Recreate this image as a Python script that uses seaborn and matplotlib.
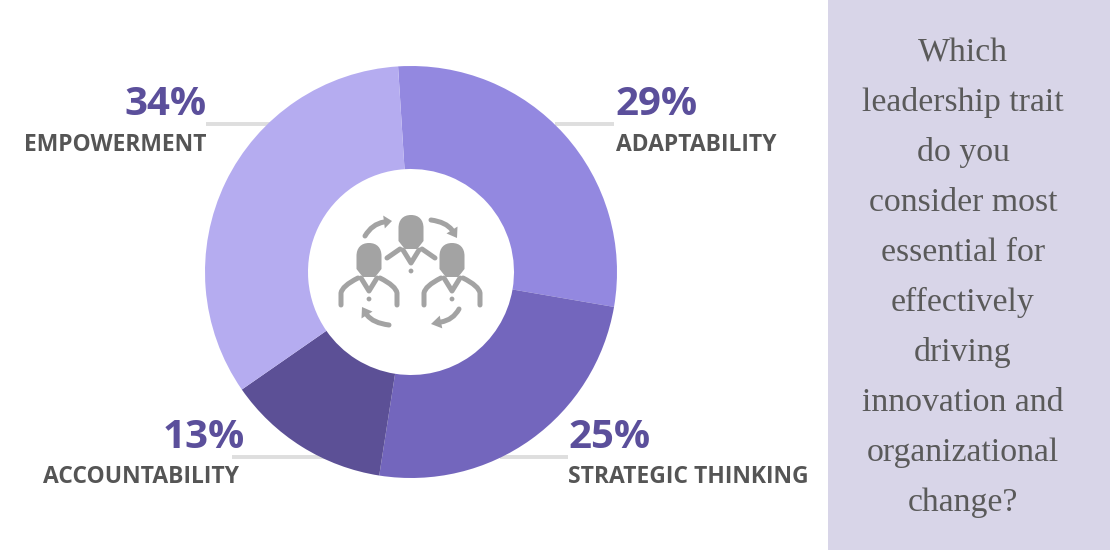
import matplotlib
matplotlib.use('Agg')
import matplotlib.pyplot as plt
import seaborn as sns
from matplotlib.patches import Rectangle, Circle, PathPatch, Polygon
from matplotlib.path import Path
import numpy as np

sns.set_theme(style="white")
plt.rcParams['font.family'] = ['Open Sans', 'DejaVu Sans']

# data, clockwise from the top of the ring
traits = ['ADAPTABILITY', 'STRATEGIC THINKING', 'ACCOUNTABILITY', 'EMPOWERMENT']
shares = [29, 25, 13, 34]
question = ['Which', 'leadership trait', 'do you', 'consider most', 'essential for',
            'effectively', 'driving', 'innovation and', 'organizational', 'change?']

ring_colors = sns.color_palette(['#9388E0', '#7366BD', '#5C5096', '#B5ACF0'])
PCT = '#5B4F9B'
LABEL = '#555555'
LEADER = '#DEDEDE'
ICON = '#A3A3A3'
H = 550

fig = plt.figure(figsize=(11.1, 5.5), dpi=100)
ax = fig.add_axes([0, 0, 1, 1])

# ── RING ─────────────────────────────────────────────────
cx, cy, r = 411, H - 272, 206
ax.pie(shares, colors=ring_colors, startangle=93.6, counterclock=False,
       center=(cx, cy), radius=r, frame=True,
       wedgeprops=dict(width=r - 103, linewidth=0))
ax.set_xlim(0, 1110)
ax.set_ylim(0, H)
ax.set_aspect('equal')
ax.axis('off')

# ── LABELS ───────────────────────────────────────────────
# pct x, name x, pct baseline, name baseline, alignment, leader from/to, leader y
layout = [
    (615, 616, 115, 151, 'left', 555, 614, 123.5),
    (568, 568, 448, 483, 'left', 500, 568, 456.5),
    (245, 239, 448, 483, 'right', 232, 330, 456.5),
    (207, 206, 115, 151, 'right', 206, 270, 123.5),
]
for name, val, (x1_txt, x2_txt, y1, y2, ha, x0, x1, ly) in zip(traits, shares, layout):
    ax.plot([x0, x1], [H - ly, H - ly], color=LEADER, lw=2.8, zorder=0, solid_capstyle='butt')
    ax.text(x1_txt, H - y1, f'{val}%', color=PCT, fontsize=29, fontweight='bold', ha=ha, va='baseline')
    ax.text(x2_txt, H - y2, name, color=LABEL, fontsize=16.5, fontweight='bold', ha=ha, va='baseline')

# ── QUESTION PANEL ───────────────────────────────────────
ax.add_patch(Rectangle((828, 0), 282, H, color='#D8D5E8', lw=0))
for i, line in enumerate(question):
    ax.text(963, H - (61 + i * 50), line, color='#5A5A5A', fontsize=24.3, ha='center',
            va='baseline', family=['Liberation Serif', 'DejaVu Serif'])


# ── ICON ─────────────────────────────────────────────────
def stroke(verts, codes):
    verts = [(x, H - y) for x, y in verts]
    ax.add_patch(PathPatch(Path(verts, codes), fc='none', ec=ICON, lw=3.6,
                           capstyle='round', joinstyle='round', zorder=5))


def head(px, py):
    m, l, c = Path.MOVETO, Path.LINETO, Path.CURVE4
    pts = [(0, -17), (8, -17), (12.5, -12), (12.5, -4), (12.5, 4),
           (12.5, 9), (10, 12), (8, 15), (6, 17), (-6, 17), (-8, 15), (-10, 12),
           (-12.5, 9), (-12.5, 4), (-12.5, -4), (-12.5, -12), (-8, -17), (0, -17)]
    codes = [m, c, c, c, l, c, c, c, l, c, c, c, l, c, c, c, c, c][:len(pts)]
    codes = [m, c, c, c, l, l, c, c, c, l, c, c, c, l, l, c, c, c]
    verts = [(px + x, H - (py + y)) for x, y in pts]
    ax.add_patch(PathPatch(Path(verts, codes), fc=ICON, ec='none', zorder=5))


def person(px, py, full=True):
    head(px, py)
    m, l, c = Path.MOVETO, Path.LINETO, Path.CURVE3
    for s in (-1, 1):
        if full:
            stroke([(px + s * 28, py + 45), (px + s * 28, py + 33),
                    (px + s * 27, py + 26), (px + s * 11, py + 18)], [m, l, c, c])
        else:
            stroke([(px + s * 24, py + 26), (px + s * 11, py + 17)], [m, l])
    stroke([(px - 8, py + 18), (px, py + 31), (px + 8, py + 18)], [m, l, l])
    ax.add_patch(Circle((px, H - (py + 39)), 2.4, color=ICON, lw=0, zorder=5))


def arrow(start, ctrl, end, tip):
    stroke([start, ctrl, end], [Path.MOVETO, Path.CURVE3, Path.CURVE3])
    e, t = np.array([end[0], H - end[1]]), np.array([tip[0], H - tip[1]])
    d = (t - e) / np.hypot(*(t - e))
    n = np.array([-d[1], d[0]])
    ax.add_patch(Polygon([t, e + n * 6.5, e - n * 6.5], fc=ICON, ec='none', zorder=5))


person(411, 232, full=False)
person(369, 260)
person(452, 260)
arrow((365, 236), (372, 224), (384, 222), (392, 221))
arrow((431, 220), (446, 222), (452, 230), (457, 238))
arrow((389, 325), (373, 323), (367, 315), (362, 307))
arrow((459, 309), (453, 320), (441, 322), (431, 324))

fig.savefig('out.png', dpi=100)
